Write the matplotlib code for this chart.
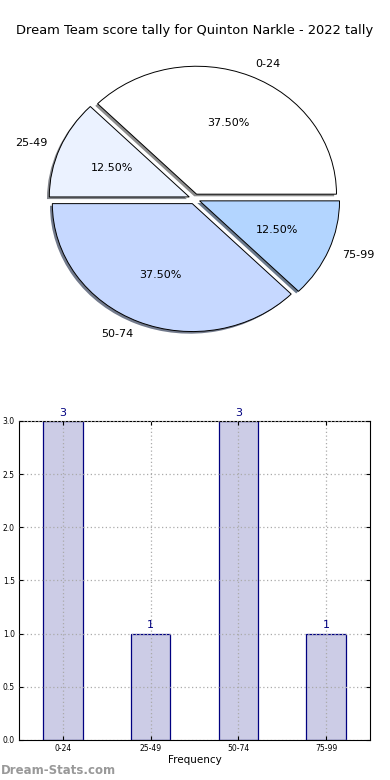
import matplotlib
matplotlib.use("Agg")
import matplotlib.pyplot as plt

title = "Dream Team score tally for Quinton Narkle - 2022 tally"
ranges = ["0-24", "25-49", "50-74", "75-99"]
counts = [3, 1, 3, 1]
pie_colors = ["#ffffff", "#ebf2ff", "#c6d8ff", "#b3d5ff"]

fig = plt.figure(figsize=(3.9, 7.8), dpi=100)
fig.text(0.5, 0.961, title, ha="center", va="center", fontsize=9.35)

# pie, old-style stretched (not equal aspect)
ax1 = fig.add_axes([0.05, 0.54, 0.897, 0.41])
ax1.pie(counts, labels=ranges, colors=pie_colors, explode=[0.04] * 4,
        autopct="%.2f%%",
        shadow={"ox": -0.012, "oy": -0.012, "shade": 0.5, "alpha": 0.9,
                "edgecolor": "none"},
        wedgeprops={"edgecolor": "black", "linewidth": 0.7},
        textprops={"fontsize": 8})
ax1.set_aspect("auto")
ax1.set_xlim(-1.25, 1.25)
ax1.set_ylim(-1.25, 1.25)

# bar chart
ax2 = fig.add_axes([0.049, 0.0513, 0.9, 0.409])
x = range(len(ranges))
ax2.bar(x, counts, width=0.45, color="#ccccE6", edgecolor="navy", linewidth=0.9)
for i, c in zip(x, counts):
    ax2.text(i, c + 0.03, str(c), ha="center", va="bottom", color="navy", fontsize=8)
ax2.set_xlim(-0.5, 3.5)
ax2.set_ylim(0, 3)
ax2.set_xticks(list(x))
ax2.set_xticklabels(ranges)
ax2.set_yticks([0, 0.5, 1.0, 1.5, 2.0, 2.5, 3.0])
ax2.set_yticklabels(["0.0", "0.5", "1.0", "1.5", "2.0", "2.5", "3.0"])
ax2.tick_params(labelsize=5.5, direction="in", top=True, right=True, length=3, pad=3)
ax2.set_axisbelow(False)
ax2.grid(True, linestyle=(0, (1, 2)), color="#aaaaaa", linewidth=0.9)
ax2.set_xlabel("Frequency", fontsize=7.5, labelpad=1)

fig.text(0.003, 0.012, "Dream-Stats.com", fontsize=8.5, color="#999999",
         fontweight="bold", ha="left", va="center")

fig.savefig("out.png", dpi=100)
